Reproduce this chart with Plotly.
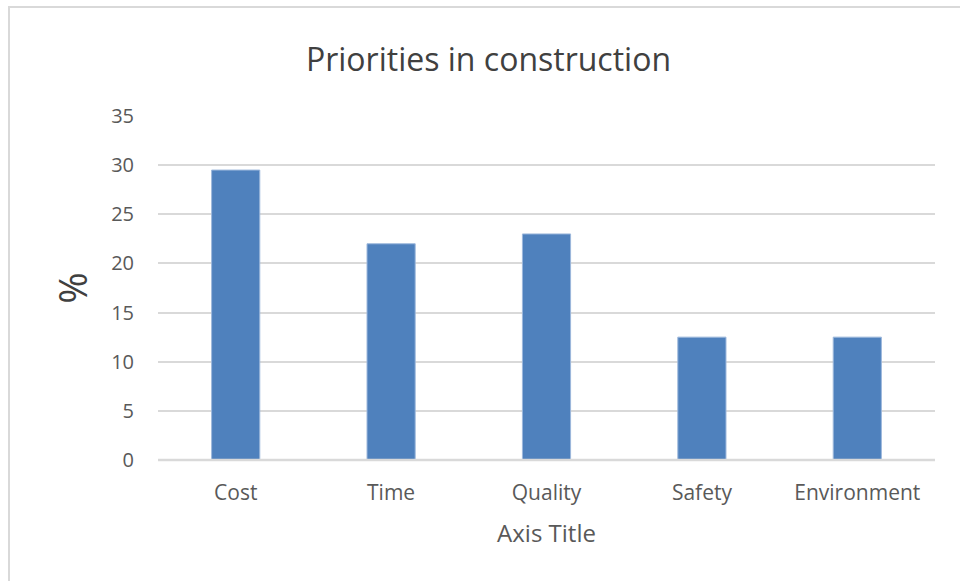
import plotly.graph_objects as go

categories = ["Cost", "Time", "Quality", "Safety", "Environment"]
values = [29.5, 22, 23, 12.5, 12.5]
y_ticks = [0, 5, 10, 15, 20, 25, 30, 35]

W, H = 960, 581
L, R, T, B = 158, 25, 116, 121
pw, ph = W - L - R, H - T - B

def px_x(x):
    return (x - L) / pw

def px_y(y):
    return (H - B - y) / ph

fig = go.Figure(go.Bar(
    x=categories, y=values,
    marker=dict(color="#4f81bd", line=dict(color="#9db8dc", width=1)),
    width=0.31,
))

fig.update_layout(
    width=W, height=H,
    margin=dict(l=L, r=R, t=T, b=B),
    paper_bgcolor="white", plot_bgcolor="white",
    font=dict(family="Open Sans", color="#595959"),
    title=dict(text="Priorities in construction", x=488.5 / W, xanchor="center",
               y=1 - 60 / H, yanchor="middle",
               font=dict(size=32, color="#404040", family="Open Sans")),
    showlegend=False,
    xaxis=dict(
        showgrid=False, showline=False, ticks="",
        tickfont=dict(size=21, color="#595959"), ticklabelstandoff=18,
        title=dict(text="Axis Title", font=dict(size=24, color="#595959"), standoff=20),
    ),
    yaxis=dict(
        range=[0, 35], tickvals=y_ticks, showgrid=True, gridcolor="#d9d9d9", gridwidth=1.5,
        zeroline=False, showline=False, ticks="",
        tickfont=dict(size=20, color="#595959"), ticklabelstandoff=23,
        title=dict(text="%", font=dict(size=38, color="#404040"), standoff=11),
    ),
    shapes=[
        dict(type="line", xref="paper", yref="paper", x0=0, x1=1, y0=0, y1=0,
             line=dict(color="#d9d9d9", width=2.5), layer="above"),
        dict(type="rect", xref="paper", yref="paper",
             x0=px_x(9), x1=px_x(975), y0=px_y(595), y1=px_y(7),
             line=dict(color="#d9d9d9", width=2), layer="below"),
    ],
)

fig.write_html("out.html")
